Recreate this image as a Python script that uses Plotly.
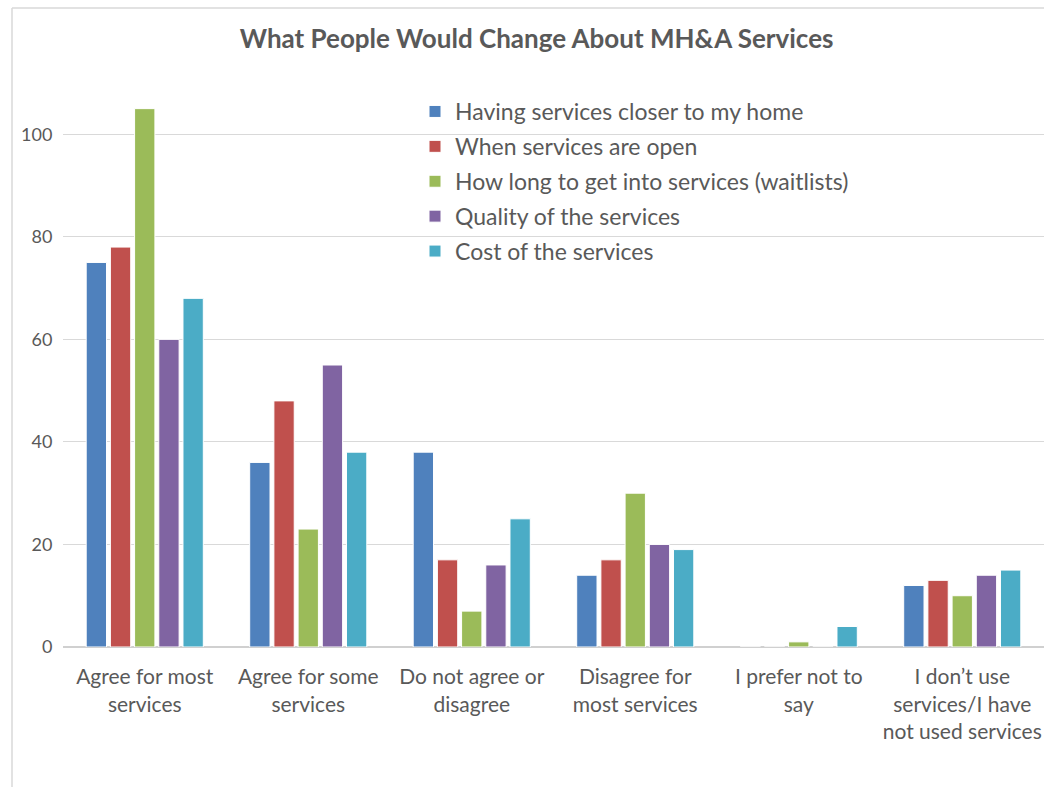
import plotly.graph_objects as go

# Survey responses per category
categories = [
    "Agree for most<br>services",
    "Agree for some<br>services",
    "Do not agree or<br>disagree",
    "Disagree for<br>most services",
    "I prefer not to<br>say",
    "I don\u2019t use<br>services/I have<br>not used services",
]

series_names = [
    "Having services closer to my home",
    "When services are open",
    "How long to get into services (waitlists)",
    "Quality of the services",
    "Cost of the services",
]

closer_to_home = [75, 36, 38, 14, 0, 12]
when_open = [78, 48, 17, 17, 0, 13]
waitlists = [105, 23, 7, 30, 1, 10]
quality = [60, 55, 16, 20, 0, 14]
cost = [68, 38, 25, 19, 4, 15]

series_values = [closer_to_home, when_open, waitlists, quality, cost]
colors = ["#4F81BD", "#C0504D", "#9BBB59", "#8064A2", "#4BACC6"]

y_ticks = [0, 20, 40, 60, 80, 100]

FONT = "Lato"
GREY = "#595959"

# plot area geometry (pixels) used to place paper-referenced decorations
L, W, T, H = 63, 981, 83, 564


def px_x(x):
    return (x - L) / W


def px_y(y):
    return (T + H - y) / H


fig = go.Figure()
for i, (name, vals, col) in enumerate(zip(series_names, series_values, colors)):
    fig.add_trace(go.Bar(
        name=name,
        x=categories,
        y=vals,
        marker=dict(color=col, line=dict(color="white", width=1)),
        legendgroup=f"g{i}",
    ))

fig.update_layout(
    width=1044,
    height=787,
    margin=dict(l=L, r=0, t=T, b=140),
    paper_bgcolor="white",
    plot_bgcolor="white",
    barmode="group",
    bargap=0.26,
    bargroupgap=0.16,
    font=dict(family=FONT, color=GREY),
    title=dict(
        text="<b>What People Would Change About MH&A Services</b>",
        x=0.514, xanchor="center",
        y=0.951, yanchor="middle",
        font=dict(family=FONT, size=26, color=GREY),
    ),
    legend=dict(
        x=px_x(415), y=px_y(90), xanchor="left", yanchor="top",
        bgcolor="rgba(0,0,0,0)",
        font=dict(family=FONT, size=23, color=GREY),
        tracegroupgap=2,
        itemwidth=30,
    ),
    showlegend=True,
    xaxis=dict(
        showgrid=False,
        showline=False,
        ticks="outside", ticklen=11, tickcolor="rgba(0,0,0,0)",
        tickfont=dict(family=FONT, size=21, color=GREY),
    ),
    yaxis=dict(
        range=[0, 110],
        tickvals=y_ticks,
        showgrid=True, gridcolor="#D9D9D9", gridwidth=1,
        zeroline=True, zerolinecolor="#D0D0D0", zerolinewidth=1.5,
        showline=False,
        ticks="outside", ticklen=6, tickcolor="rgba(0,0,0,0)",
        tickfont=dict(family=FONT, size=18, color=GREY),
    ),
    shapes=[
        # white legend panel masking the gridlines behind it
        dict(type="rect", xref="paper", yref="paper", layer="between",
             x0=px_x(371), x1=px_x(912), y0=px_y(275), y1=px_y(95),
             fillcolor="white", line=dict(width=0)),
        # chart frame
        dict(type="line", xref="paper", yref="paper",
             x0=px_x(12), x1=1.01, y0=px_y(8), y1=px_y(8),
             line=dict(color="#D9D9D9", width=1.5)),
        dict(type="line", xref="paper", yref="paper",
             x0=px_x(12), x1=px_x(12), y0=px_y(8), y1=-0.3,
             line=dict(color="#D9D9D9", width=1.5)),
    ],
)

fig.write_html("out.html")
